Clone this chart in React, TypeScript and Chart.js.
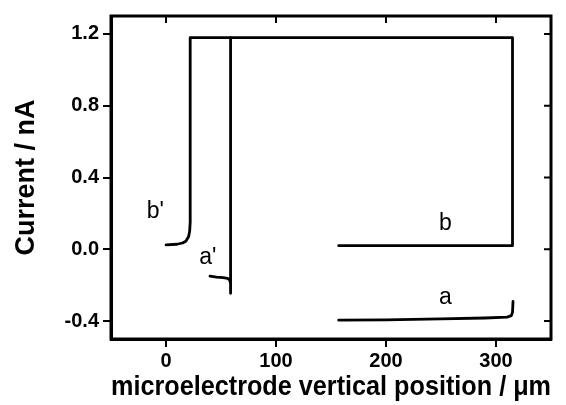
import React, { useEffect, useRef } from "react";
import { Chart, registerables } from "chart.js";

Chart.register(...registerables);

// Curve b' (approach) joined to the saturated plateau and curve b
const curveBX = [0, 10, 15, 18, 20.5, 21.5, 22, 22, 315, 315, 157];
const curveBY = [0.025, 0.028, 0.035, 0.045, 0.07, 0.1, 0.15, 1.18, 1.18, 0.02, 0.02];

// Curve a' (approach) with its vertical rise to the plateau
const curveAPX = [58.7, 58.7, 58.7, 57.8, 56, 52, 46, 40];
const curveAPY = [1.18, -0.245, -0.19, -0.17, -0.162, -0.158, -0.155, -0.15];

// Curve a
const curveAX = [157, 200, 250, 290, 310, 314, 315, 315.5];
const curveAY = [-0.395, -0.393, -0.388, -0.383, -0.378, -0.37, -0.35, -0.29];

const xTicks = [0, 100, 200, 300];
const yTicks = [-0.4, 0.0, 0.4, 0.8, 1.2];

const curveLabels = ["b'", "a'", "b", "a"];
const labelX = [-9.7, 38, 254, 254];
const labelY = [0.21, -0.045, 0.14, -0.27];

const toPts = (xs: number[], ys: number[]) => xs.map((x, i) => ({ x, y: ys[i] }));

const framePlugin = {
  id: "frame",
  afterDraw(chart: any) {
    const { ctx, chartArea } = chart;
    const xs = chart.scales.x;
    const ys = chart.scales.y;
    ctx.save();
    ctx.strokeStyle = "#000";
    ctx.lineWidth = 3;
    ctx.lineJoin = "miter";
    ctx.strokeRect(chartArea.left, chartArea.top, chartArea.right - chartArea.left, chartArea.bottom - chartArea.top);
    ctx.lineWidth = 2;
    ctx.beginPath();
    xTicks.forEach((v) => {
      const px = xs.getPixelForValue(v);
      ctx.moveTo(px, chartArea.top);
      ctx.lineTo(px, chartArea.top + 7);
    });
    yTicks.forEach((v) => {
      const py = ys.getPixelForValue(v);
      ctx.moveTo(chartArea.right, py);
      ctx.lineTo(chartArea.right - 7, py);
    });
    ctx.stroke();
    ctx.fillStyle = "#000";
    ctx.font = "23px Arial, 'Liberation Sans', sans-serif";
    ctx.textAlign = "center";
    ctx.textBaseline = "middle";
    curveLabels.forEach((t, i) => {
      ctx.fillText(t, xs.getPixelForValue(labelX[i]), ys.getPixelForValue(labelY[i]));
    });
    ctx.restore();
  },
};

export default function App() {
  const ref = useRef<HTMLCanvasElement>(null);
  useEffect(() => {
    if (!ref.current) return;
    const ds = (xs: number[], ys: number[]) => ({
      data: toPts(xs, ys),
      showLine: true,
      borderColor: "#000",
      borderWidth: 2.8,
      pointRadius: 0,
      fill: false,
      tension: 0,
      borderJoinStyle: "round" as const,
      borderCapStyle: "round" as const,
    });
    const tickFont = { family: "Arial, 'Liberation Sans', sans-serif", size: 20, weight: "bold" as const };
    const titleFont = { family: "Arial, 'Liberation Sans', sans-serif", size: 27, weight: "bold" as const };
    const chart = new Chart(ref.current, {
      type: "scatter",
      data: {
        datasets: [ds(curveBX, curveBY), ds(curveAPX, curveAPY), ds(curveAX, curveAY)],
      },
      options: {
        animation: false,
        responsive: false,
        devicePixelRatio: 1,
        layout: { padding: { top: 14, right: 15, left: 0, bottom: 0 } },
        plugins: { legend: { display: false }, tooltip: { enabled: false } },
        scales: {
          x: {
            type: "linear",
            min: -50,
            max: 350,
            afterBuildTicks: (s: any) => {
              s.ticks = xTicks.map((v) => ({ value: v }));
            },
            afterFit: (s: any) => {
              s.height = 66;
            },
            grid: { display: true, drawOnChartArea: false, drawTicks: true, tickLength: 8, color: "#000", lineWidth: 2 },
            border: { display: true, color: "#000", width: 3 },
            ticks: { color: "#000", font: tickFont, padding: 2, maxRotation: 0, callback: (v: any) => String(v) },
            title: { display: true, text: "microelectrode vertical position / μm", color: "#000", font: titleFont, padding: { top: 0, bottom: 1 } },
          },
          y: {
            type: "linear",
            min: -0.5,
            max: 1.3,
            afterBuildTicks: (s: any) => {
              s.ticks = yTicks.map((v) => ({ value: v }));
            },
            afterFit: (s: any) => {
              s.width = 111;
            },
            grid: { display: true, drawOnChartArea: false, drawTicks: true, tickLength: 8, color: "#000", lineWidth: 2 },
            border: { display: true, color: "#000", width: 3 },
            ticks: { color: "#000", font: tickFont, padding: 4, callback: (v: any) => Number(v).toFixed(1) },
            title: { display: true, text: "Current / nA", color: "#000", font: titleFont, padding: { top: 10, bottom: 0 } },
          },
        },
      },
      plugins: [framePlugin],
    });
    return () => chart.destroy();
  }, []);
  return (
    <div style={{ position: "absolute", left: 0, top: 0, width: 566, height: 405, background: "#fff" }}>
      <canvas ref={ref} width={566} height={405} />
    </div>
  );
}
